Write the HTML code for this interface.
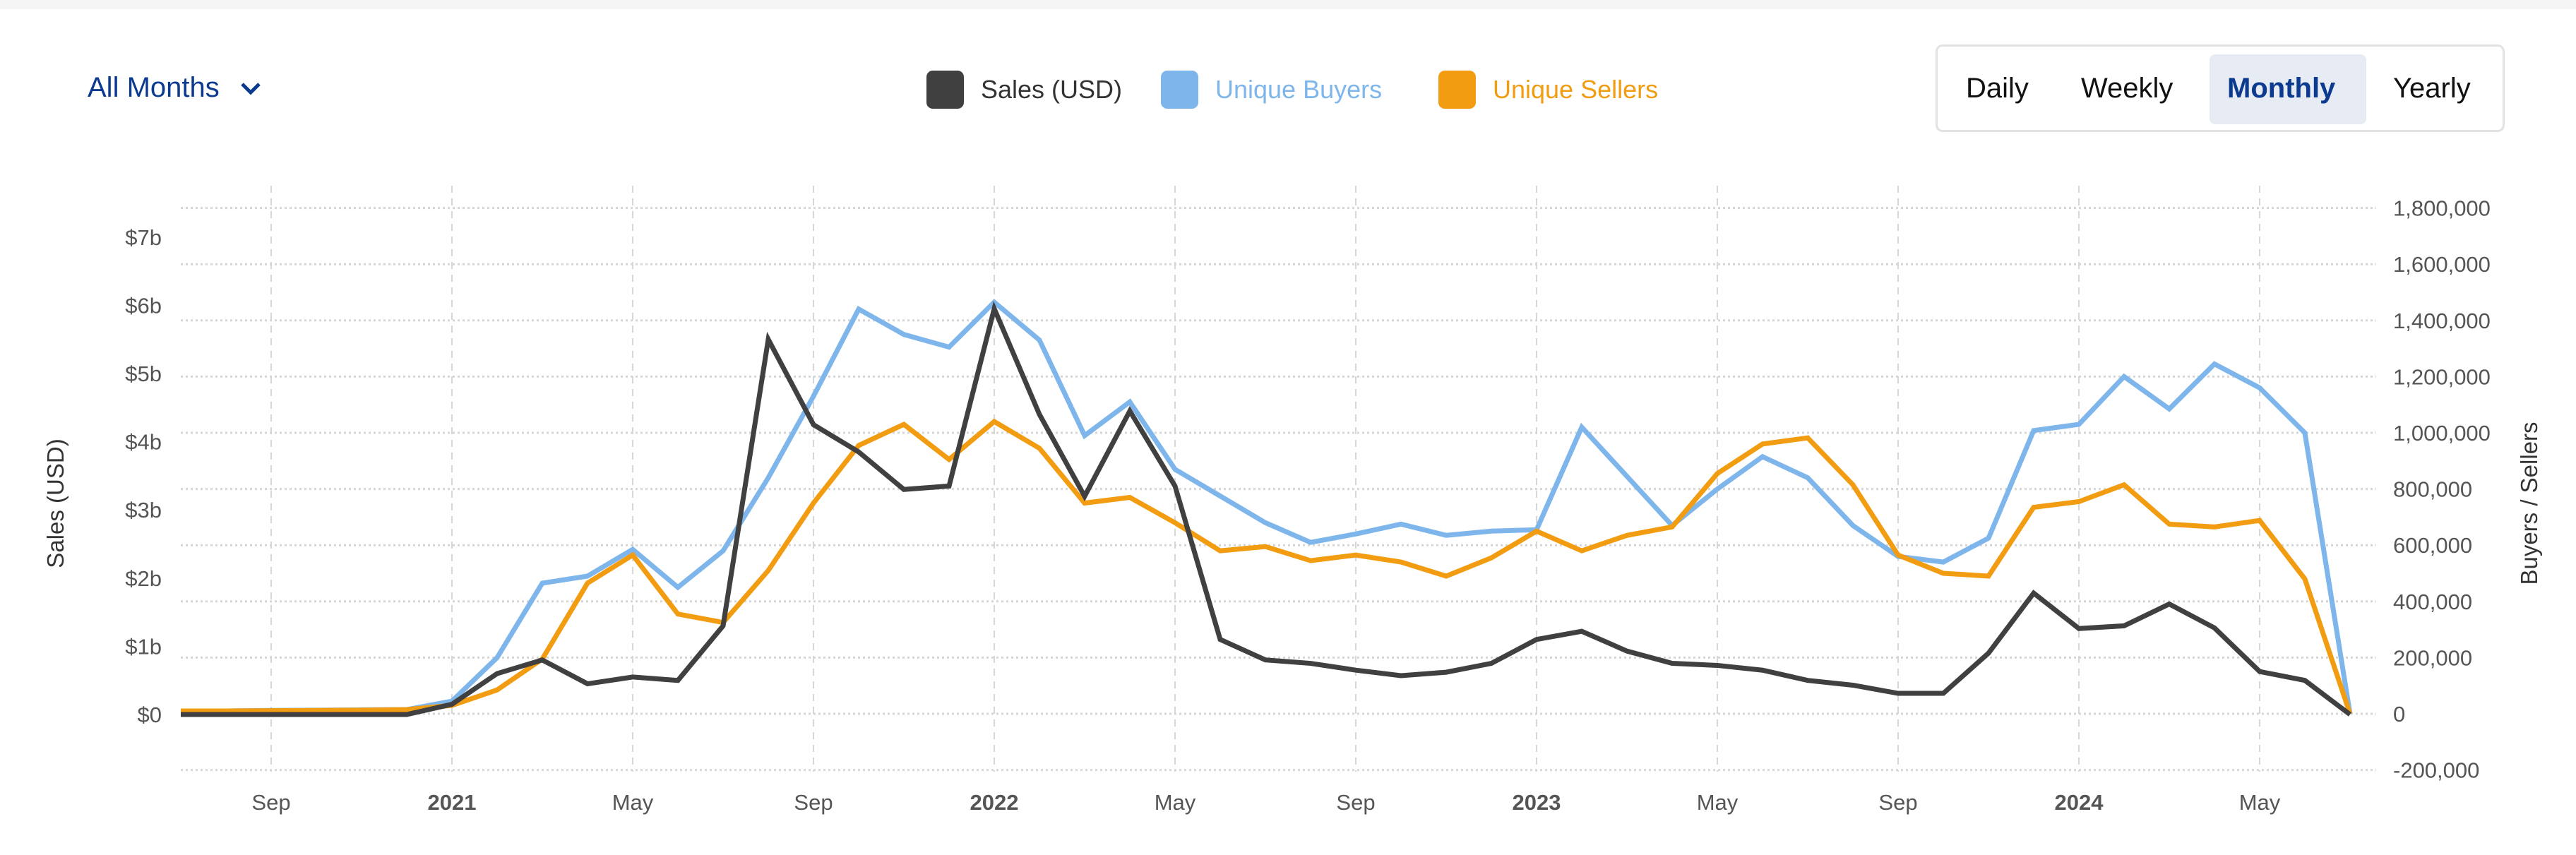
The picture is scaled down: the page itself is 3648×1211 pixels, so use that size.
<!DOCTYPE html>
<html><head><meta charset="utf-8"><style>
html,body{margin:0;padding:0;background:#fff;}
body{width:3648px;height:1211px;overflow:hidden;position:relative;font-family:"Liberation Sans",sans-serif;}
.top{position:absolute;left:0;top:0;width:3648px;height:13px;background:#f5f5f5;}
.sel{position:absolute;left:124px;top:102px;font-size:40px;color:#0b3a8f;}
.leg{position:absolute;top:100px;height:54px;display:flex;align-items:center;font-size:36px;}
.sw{width:53px;height:54px;border-radius:9px;margin-right:24px;}
.btns{position:absolute;left:2741px;top:63px;width:806px;height:124px;border:3px solid #e2e2e2;border-radius:10px;box-sizing:border-box;}
.b{position:absolute;top:0;height:118px;line-height:118px;font-size:40px;color:#111;}
.mon{position:absolute;left:385px;top:11px;width:222px;height:99px;background:#e6ebf4;border-radius:8px;}
</style></head><body>
<div class="top"></div>
<div class="sel">All Months <svg width="34" height="24" viewBox="0 0 34 24" style="margin-left:16px"><path d="M5 6 L17 18 L29 6" fill="none" stroke="#0b3a8f" stroke-width="5"/></svg></div>
<div class="leg" style="left:1312px;color:#333"><div class="sw" style="background:#404040"></div>Sales (USD)</div>
<div class="leg" style="left:1644px;color:#7eb6ec"><div class="sw" style="background:#7eb6ec"></div>Unique Buyers</div>
<div class="leg" style="left:2037px;color:#f29c11"><div class="sw" style="background:#f29c11"></div>Unique Sellers</div>
<div class="btns">
<div class="mon"></div>
<div class="b" style="left:40px">Daily</div>
<div class="b" style="left:203px">Weekly</div>
<div class="b" style="left:410px;color:#0b3a8f;font-weight:bold">Monthly</div>
<div class="b" style="left:645px">Yearly</div>
</div>
<svg id="chart" width="3648" height="1211" style="position:absolute;left:0;top:0"></svg>
<script>
const sales=[0,0,0,0,0,0,0.15,0.6,0.8,0.45,0.55,0.5,1.3,5.5,4.25,3.85,3.3,3.35,5.95,4.4,3.2,4.45,3.35,1.1,0.8,0.75,0.65,0.57,0.62,0.75,1.1,1.22,0.93,0.75,0.72,0.65,0.5,0.43,0.31,0.31,0.9,1.78,1.26,1.3,1.62,1.27,0.63,0.5,0];
const buyers=[10000,10000,12000,13000,14000,15000,45000,200000,465000,490000,585000,450000,580000,840000,1130000,1440000,1350000,1305000,1465000,1330000,990000,1110000,870000,775000,680000,610000,640000,675000,635000,650000,655000,1020000,845000,670000,800000,915000,840000,670000,560000,540000,625000,1008000,1030000,1200000,1085000,1245000,1160000,1000000,0];
const sellers=[10000,10000,11000,12000,13000,15000,30000,85000,195000,465000,565000,355000,325000,510000,750000,955000,1030000,905000,1040000,945000,750000,770000,680000,580000,595000,545000,565000,540000,490000,555000,650000,580000,635000,665000,855000,960000,982000,815000,565000,500000,490000,735000,755000,815000,675000,665000,688000,480000,0];
const leftTicks=["$0","$1b","$2b","$3b","$4b","$5b","$6b","$7b"];
const rightTicks=["-200,000","0","200,000","400,000","600,000","800,000","1,000,000","1,200,000","1,400,000","1,600,000","1,800,000"];
const xLabels=[["Sep",2,false],["2021",6,false],["May",10,false],["Sep",14,false],["2022",18,true],["May",22,false],["Sep",26,false],["2023",30,true],["May",34,false],["Sep",38,false],["2024",42,true],["May",46,false]];
xLabels[1][2]=true;
const NS="http://www.w3.org/2000/svg",svg=document.getElementById('chart');
const X=i=>256+i*64, YL=v=>1012-v*96.6, YR=v=>1011-v/200000*79.6;
function mk(t,a,p){const e=document.createElementNS(NS,t);for(const k in a)e.setAttribute(k,a[k]);(p||svg).appendChild(e);return e;}
xLabels.forEach(l=>{const e=mk('line',{x1:X(l[1]),x2:X(l[1]),y1:263,y2:1093,stroke:'#d6d6d6','stroke-width':2,'stroke-dasharray':'10 8'});


const t=mk('text',{x:X(l[1]),y:1147,'text-anchor':'middle','font-size':31,fill:'#555','font-weight':l[2]?'bold':'normal'});t.textContent=l[0];

});
rightTicks.forEach((s,i)=>{const v=(i-1)*200000;const g=mk('line',{x1:256,x2:3365,y1:YR(v),y2:YR(v),stroke:'#d6d6d6','stroke-width':3,'stroke-dasharray':'3 4'});


const t=mk('text',{x:3389,y:YR(v)+11,'font-size':31,fill:'#555'});t.textContent=s;

});
leftTicks.forEach((s,i)=>{const t=mk('text',{x:229,y:YL(i)+11,'text-anchor':'end','font-size':31,fill:'#555'});t.textContent=s;

});
let t=mk('text',{x:0,y:0,transform:'translate(90,713) rotate(-90)','text-anchor':'middle','font-size':33,fill:'#333'});t.textContent='Sales (USD)';


t=mk('text',{x:0,y:0,transform:'translate(3593,713) rotate(-90)','text-anchor':'middle','font-size':33,fill:'#333'});t.textContent='Buyers / Sellers';


function line(arr,f,c,n){const p=mk('polyline',{points:arr.map((v,i)=>X(i)+','+f(v)).join(' '),fill:'none',stroke:c,'stroke-width':7,'stroke-linejoin':'miter'});

}
line(buyers,YR,'#7eb6ec','buyers-line');
line(sellers,YR,'#f29c11','sellers-line');
line(sales,YL,'#404040','sales-line');
</script>
</body></html>
